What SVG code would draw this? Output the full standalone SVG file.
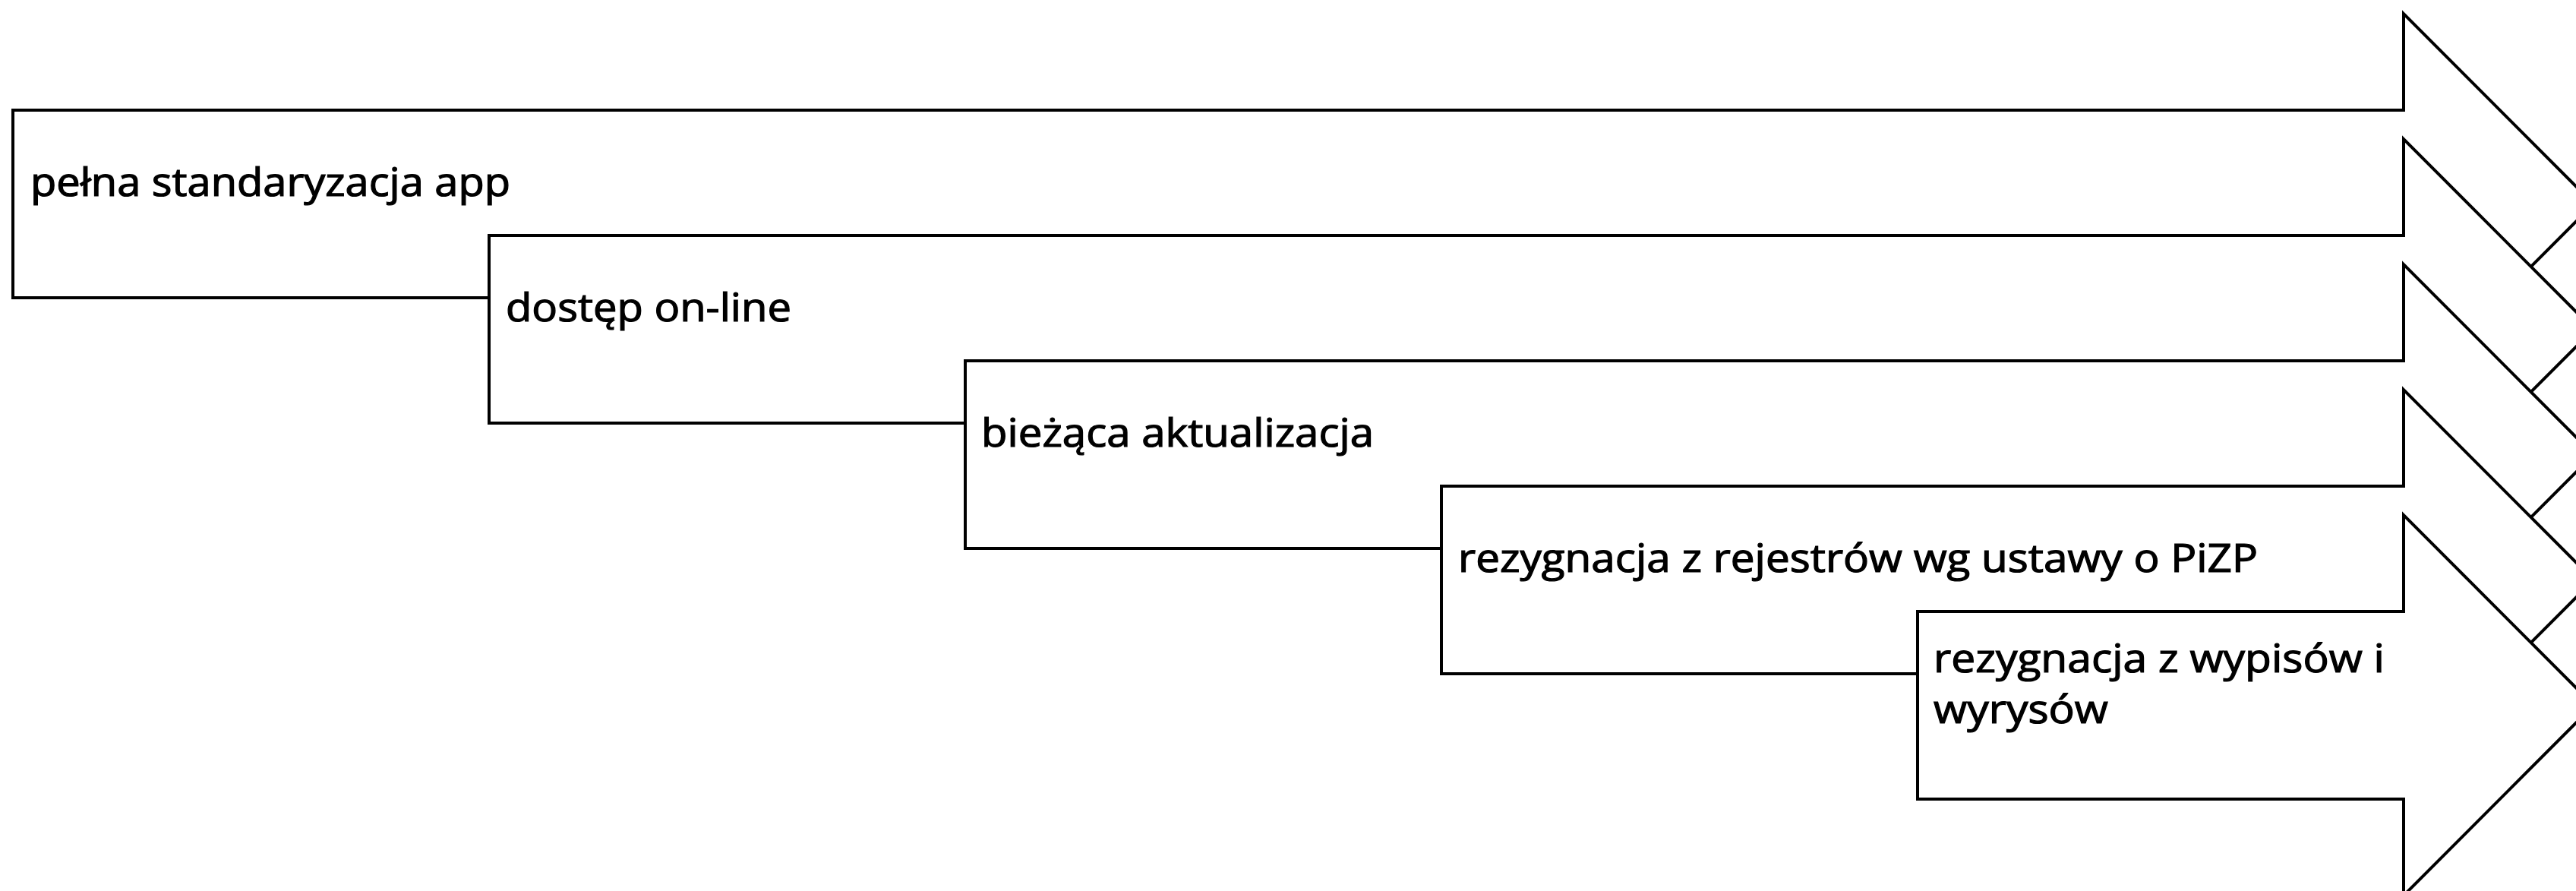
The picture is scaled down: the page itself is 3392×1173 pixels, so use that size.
<svg xmlns="http://www.w3.org/2000/svg" width="3392" height="1173" viewBox="0 0 3392 1173">
<style>
.arr{fill:#ffffff;stroke:#000000;stroke-width:4;stroke-linejoin:miter}
.lbl{font-family:"Open Sans","Liberation Sans",sans-serif;font-size:51px;fill:#000000;stroke:#000000;stroke-width:1.2}
</style>
<rect width="3392" height="1173" fill="#ffffff"/>
<g id="connectors"></g>
<g id="step1">
<polygon class="arr" points="17,145 3165,145 3165,18 3415,268.5 3165,519 3165,392 17,392"/>
<text class="lbl" x="40" y="258" textLength="632" lengthAdjust="spacingAndGlyphs">pełna standaryzacja app</text>
</g>
<g id="step2">
<polygon class="arr" points="644,310 3165,310 3165,183 3415,433.5 3165,684 3165,557 644,557"/>
<text class="lbl" x="666" y="423" textLength="376" lengthAdjust="spacingAndGlyphs">dostęp on-line</text>
</g>
<g id="step3">
<polygon class="arr" points="1271,475 3165,475 3165,348 3415,598.5 3165,849 3165,722 1271,722"/>
<text class="lbl" x="1292" y="588" textLength="517" lengthAdjust="spacingAndGlyphs">bieżąca aktualizacja</text>
</g>
<g id="step4">
<polygon class="arr" points="1898,640 3165,640 3165,513 3415,763.5 3165,1014 3165,887 1898,887"/>
<text class="lbl" x="1920" y="753" textLength="1053" lengthAdjust="spacingAndGlyphs">rezygnacja z rejestrów wg ustawy o PiZP</text>
</g>
<g id="step5">
<polygon class="arr" points="2525,805 3165,805 3165,678 3415,928.5 3165,1179 3165,1052 2525,1052"/>
<text class="lbl" x="2546" y="885" textLength="594" lengthAdjust="spacingAndGlyphs">rezygnacja z wypisów i</text>
<text class="lbl" x="2546" y="952" textLength="230" lengthAdjust="spacingAndGlyphs">wyrysów</text>
</g>
</svg>
